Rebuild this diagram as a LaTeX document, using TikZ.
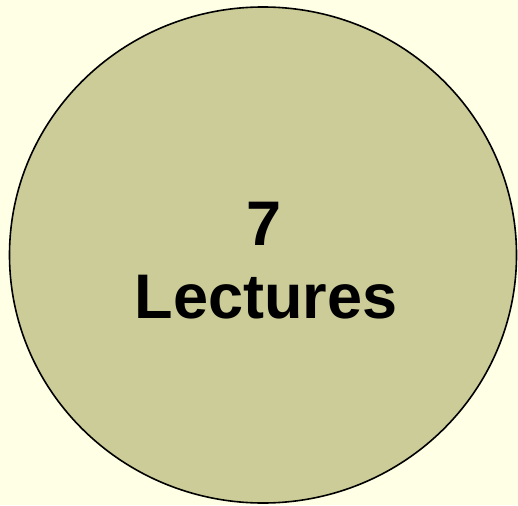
\documentclass[tikz,border=0pt]{standalone}
\usepackage{fontspec}
\setmainfont{Liberation Sans}
\definecolor{bgc}{HTML}{FFFFE5}
\definecolor{circc}{HTML}{CCCC99}
\begin{document}
\begin{tikzpicture}[x=1pt,y=-1pt,
  lbl/.style={font=\fontsize{63}{72}\selectfont\bfseries, anchor=base, inner sep=0pt}]
\fill[bgc] (0,0) rectangle (518,505);
\useasboundingbox (0,0) rectangle (518,505);
\draw[fill=circc, line width=1.6pt] (263,255) ellipse [x radius=253.5, y radius=248];
\node[lbl] (num) at (264,245) {7};
\node[lbl] (lec) at (266,318) {Lectures};
\end{tikzpicture}
\end{document}
